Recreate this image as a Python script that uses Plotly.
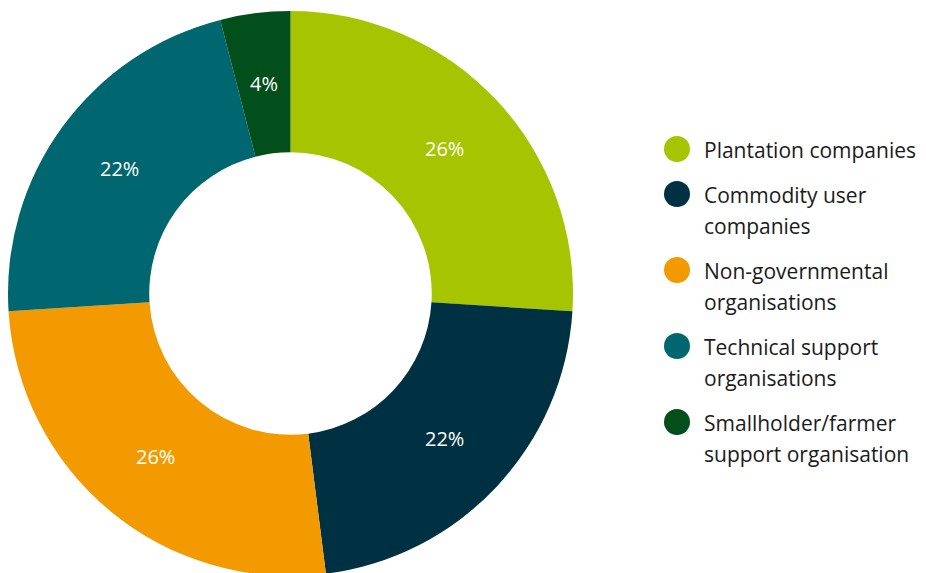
import math
import plotly.graph_objects as go

categories = ["Plantation companies", "Commodity user companies", "Non-governmental organisations",
              "Technical support organisations", "Smallholder/farmer support organisation"]
legend_lines = [["Plantation companies"], ["Commodity user", "companies"], ["Non-governmental", "organisations"],
                ["Technical support", "organisations"], ["Smallholder/farmer", "support organisation"]]
values = [26, 22, 26, 22, 4]
colors = ["#A6C500", "#003142", "#F29A00", "#006770", "#024F1B"]

W, H = 926, 573
OX, OY = 8, 8  # page body margin offset
FONT = "Open Sans"
HOLE = 0.5

R = 282.5
CX, CY = 290.5 - OX, 294.5 - OY - 1  # centre in figure pixels (from top)

fig = go.Figure()
fig.add_trace(go.Pie(
    labels=categories, values=values, sort=False, direction="clockwise", rotation=0,
    hole=HOLE, marker=dict(colors=colors, line=dict(width=0)),
    textinfo="none",
    domain=dict(x=[(CX - R) / W, (CX + R) / W], y=[(H - CY - R) / H, (H - CY + R) / H]),
    showlegend=False, hoverinfo="label+percent",
))

annotations = []
# percentage labels at the middle of each ring segment
total = sum(values)
cum = 0
rm = R * (1 + HOLE) / 2
for v in values:
    th = 2 * math.pi * (cum + v / 2) / total
    px = CX + rm * math.sin(th)
    py = CY - rm * math.cos(th)
    annotations.append(dict(xref="paper", yref="paper", x=px / W, y=1 - py / H,
                            xanchor="center", yanchor="middle", showarrow=False,
                            text=f"{round(100 * v / total)}%",
                            font=dict(family=FONT, size=20, color="white")))
    cum += v

shapes = []
y = 149 - OY
r = 13
cx = 677 - OX
for i, lines in enumerate(legend_lines):
    shapes.append(dict(type="circle", xref="paper", yref="paper",
                       x0=(cx - r) / W, x1=(cx + r) / W,
                       y0=1 - (y + r) / H, y1=1 - (y - r) / H,
                       fillcolor=colors[i], line=dict(width=0)))
    for j, ln in enumerate(lines):
        annotations.append(dict(xref="paper", yref="paper", x=(702 - OX) / W, y=1 - (y + 1 + j * 31) / H,
                                xanchor="left", yanchor="middle", text=ln, showarrow=False,
                                font=dict(family=FONT, size=21, color="#1b1b1b")))
    y += 45 + 31 * (len(lines) - 1)

fig.update_layout(width=W, height=H, margin=dict(l=0, r=0, t=0, b=0),
                  paper_bgcolor="white", plot_bgcolor="white",
                  shapes=shapes, annotations=annotations)
fig.write_html("out.html")
